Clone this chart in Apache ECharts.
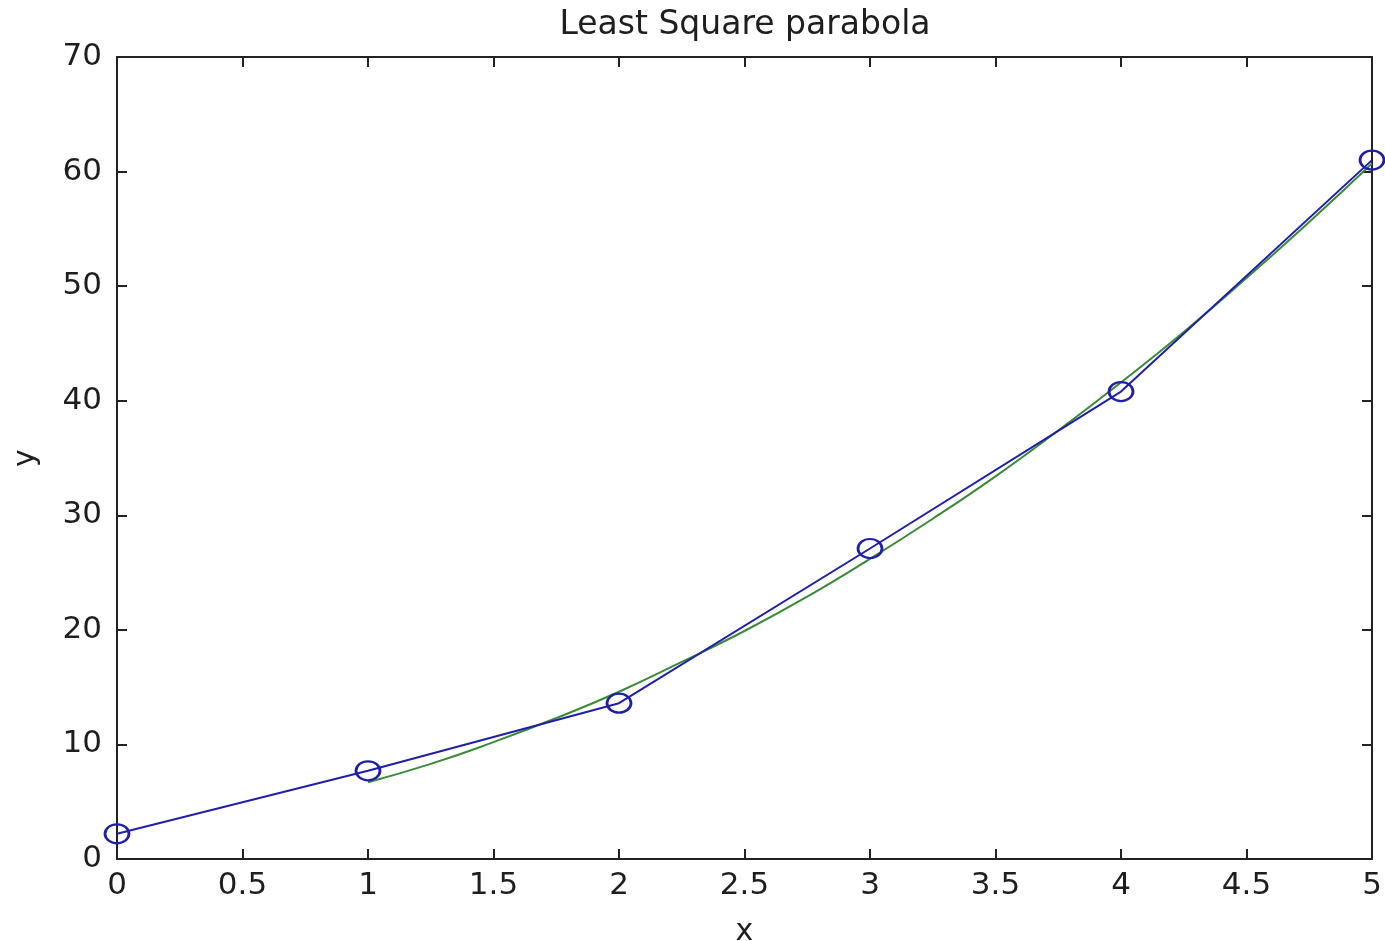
<!DOCTYPE html>
<html><head><meta charset="utf-8">
<script src="https://cdn.jsdelivr.net/npm/echarts@6/dist/echarts.min.js"></script>
<style>html,body{margin:0;padding:0;background:#fff}#c{width:1385px;height:941px}</style>
</head><body><div id="c"></div>
<script>
const dataX = [0, 1, 2, 3, 4, 5];
const dataY = [2.2, 7.7, 13.6, 27.1, 40.8, 61.0];
const fitX = [1, 1.25, 1.5, 1.75, 2, 2.25, 2.5, 2.75, 3, 3.25, 3.5, 3.75, 4, 4.25, 4.5, 4.75, 5];
const fitY = [6.7, 8.3, 10.2, 12.3, 14.6, 17.2, 19.9, 22.9, 26.2, 29.7, 33.4, 37.4, 41.6, 46.0, 50.7, 55.6, 60.7];
const titleText = 'Least Square parabola';
const xName = 'x', yName = 'y';

const font = 'DejaVu Sans, Verdana, sans-serif';
const txtColor = '#1e1e1e';
const axisCommon = {
  axisLine: {show: true, onZero: false, lineStyle: {color: '#222', width: 2}},
  axisTick: {show: true, inside: true, length: 10, lineStyle: {color: '#222', width: 2}},
  splitLine: {show: false}
};
const chart = echarts.init(document.getElementById('c'));
chart.setOption({
  animation: false,
  backgroundColor: '#fff',
  title: {text: titleText, left: 740, top: 4, textAlign: 'center',
    textStyle: {fontFamily: font, fontWeight: 'normal', fontSize: 33, color: txtColor}},
  grid: {left: 117, right: 13, top: 57, bottom: 82, containLabel: false, outerBoundsMode: 'none'},
  xAxis: [
    Object.assign({type: 'value', min: 0, max: 5, interval: 0.5, position: 'bottom',
      name: xName, nameLocation: 'middle', nameGap: 58,
      nameTextStyle: {fontFamily: font, fontSize: 30, color: txtColor},
      axisLabel: {fontFamily: font, fontSize: 31, color: txtColor, margin: 11}}, axisCommon),
    Object.assign({type: 'value', min: 0, max: 5, interval: 0.5, position: 'top',
      axisLabel: {show: false}}, axisCommon)
  ],
  yAxis: [
    Object.assign({type: 'value', min: 0, max: 70, interval: 10, position: 'left',
      name: yName, nameLocation: 'middle', nameGap: 76, nameRotate: 90,
      nameTextStyle: {fontFamily: font, fontSize: 30, color: txtColor},
      axisLabel: {fontFamily: font, fontSize: 31, color: txtColor, margin: 15}}, axisCommon),
    Object.assign({type: 'value', min: 0, max: 70, interval: 10, position: 'right',
      axisLabel: {show: false}}, axisCommon)
  ],
  series: [
    {type: 'line', data: dataX.map((x, i) => [x, dataY[i]]),
      lineStyle: {color: '#1f1fa8', width: 2}, itemStyle: {color: 'rgba(0,0,0,0)', borderColor: '#1f1fa8', borderWidth: 2.5},
      symbol: 'circle', symbolSize: [24, 19], showSymbol: true, z: 2, clip: false},
    {type: 'line', data: fitX.map((x, i) => [x, fitY[i]]), smooth: true,
      lineStyle: {color: '#3a8a3a', width: 2}, symbol: 'none', z: 1}
  ]
});
</script></body></html>
